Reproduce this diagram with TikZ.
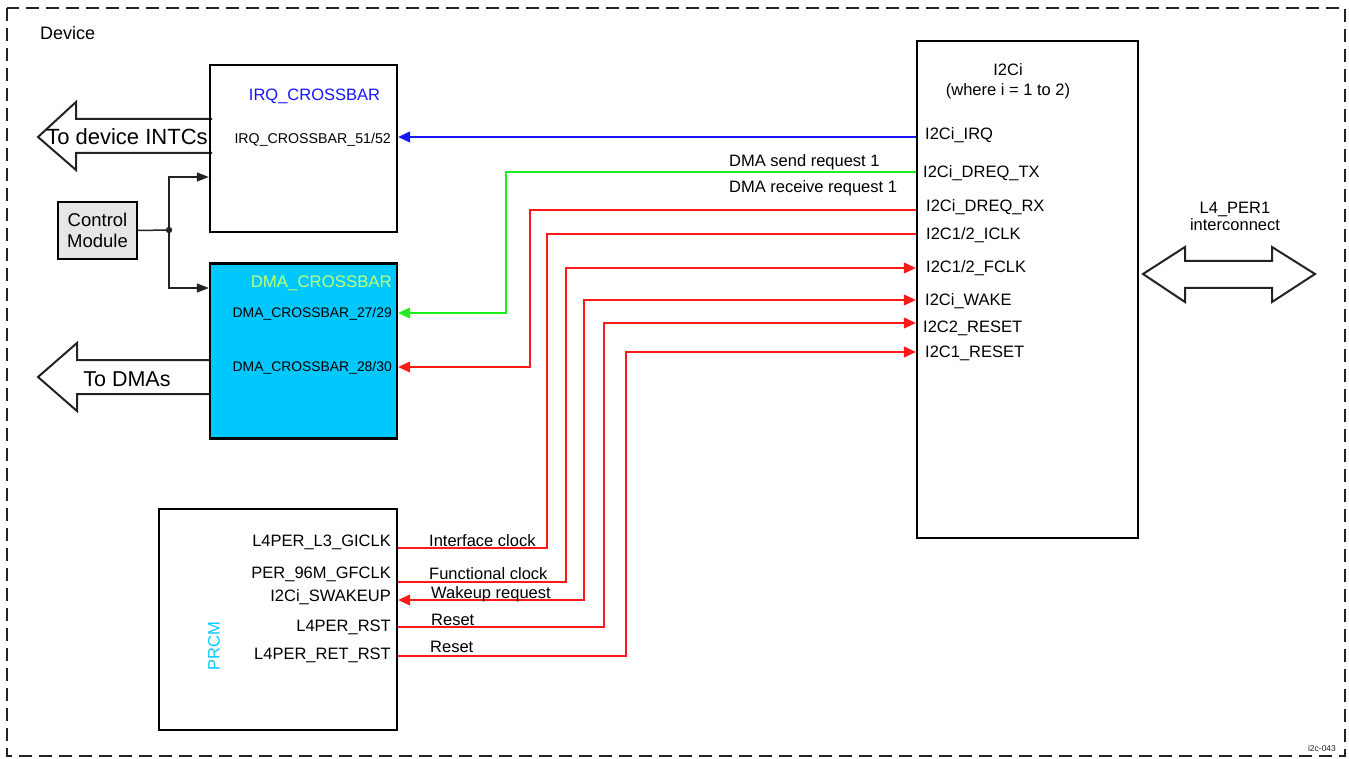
\documentclass[tikz,border=0pt]{standalone}
\usepackage{fontspec}
\setmainfont{Liberation Sans}
\usepackage{tikz}
\usetikzlibrary{arrows.meta,positioning,calc}
\definecolor{xbarcyan}{RGB}{0,200,255}
\definecolor{xbargreen}{RGB}{190,255,120}
\definecolor{irqblue}{RGB}{20,20,255}
\definecolor{reqgreen}{RGB}{30,240,30}
\definecolor{wirered}{RGB}{255,25,25}
\definecolor{cmgrey}{RGB}{230,230,230}
\definecolor{outline}{RGB}{35,35,35}

\begin{document}
\begin{tikzpicture}[x=1pt, y=-1pt,
    blk/.style={rectangle, draw=black, line width=2.4pt, inner sep=0pt},
    lbl/.style={font=\fontsize{16.5}{19}\selectfont, inner sep=0pt},
    plbl/.style={font=\fontsize{14.2}{16}\selectfont, inner sep=0pt},
    fat/.style={draw=outline, line width=2pt, fill=white, line join=miter},
    wire/.style={line width=1.2pt, -{Triangle[length=12pt,width=11pt]}},
    ctl/.style={line width=1.5pt, draw=outline, -{Triangle[length=12pt,width=9pt]}}
]
    \useasboundingbox (0,0) rectangle (1349,759);
    \draw[dash pattern=on 13pt off 7pt, line width=1.3pt, outline] (7,8) rectangle (1345,756);
    \node[lbl, font=\fontsize{18}{21}\selectfont, anchor=west] (dev) at (40,33) {Device};

    % Wide arrows
    \draw[fat] (212,119) -- (76,119) -- (76,102) -- (38,137) -- (76,170) -- (76,153) -- (212,153);
    \draw[fat] (212,360) -- (77,360) -- (77,343) -- (38,377) -- (77,411) -- (77,394) -- (212,394);
    \draw[fat] (1143,274) -- (1185,247) -- (1185,261) -- (1272,261) -- (1272,247) -- (1315,274)
        -- (1272,302) -- (1272,288) -- (1185,288) -- (1185,302) -- cycle;
    \node[lbl, font=\fontsize{22}{24}\selectfont] (intc) at (127,137) {To device INTCs};
    \node[lbl, font=\fontsize{21.5}{24}\selectfont] (todma) at (127,379) {To DMAs};
    \node[lbl, align=center, font=\fontsize{16.5}{17}\selectfont] (l4) at (1235,216) {L4\_PER1\\interconnect};

    % Blocks
    \node[blk, minimum width=187pt, minimum height=167pt] (irq) at (303.5,148.5) {};
    \node[blk, fill=xbarcyan, minimum width=187pt, minimum height=175pt] (dma) at (303.5,351) {};
    \node[blk, fill=cmgrey, line width=2pt, minimum width=79pt, minimum height=57pt, align=center,
        font=\fontsize{18.5}{21}\selectfont] (cm) at (97.5,230.5) {Control\\Module};
    \node[blk, minimum width=221pt, minimum height=497pt] (i2c) at (1027.5,289.5) {};
    \node[blk, minimum width=238pt, minimum height=221pt] (prcm) at (278,619.5) {};

    \node[lbl, irqblue] (irqt) at (314.5,96) {IRQ\_CROSSBAR};
    \node[plbl, anchor=east] (irqp) at (391,140) {IRQ\_CROSSBAR\_51/52};
    \node[lbl, xbargreen, anchor=east, font=\fontsize{16.8}{19}\selectfont] (dmat) at (392,283) {DMA\_CROSSBAR};
    \node[plbl, anchor=east, font=\fontsize{13.9}{16}\selectfont] (dmap1) at (392,314) {DMA\_CROSSBAR\_27/29};
    \node[plbl, anchor=east, font=\fontsize{13.9}{16}\selectfont] (dmap2) at (392,368) {DMA\_CROSSBAR\_28/30};
    \node[lbl, align=center, font=\fontsize{16.5}{20}\selectfont] (i2ct) at (1008,81) {I2Ci\\(where i = 1 to 2)};
    \node[lbl, xbarcyan, rotate=90] (prcmt) at (214,646) {PRCM};

    % I2Ci ports
    \node[lbl, anchor=west] (pirq) at (925,135) {I2Ci\_IRQ};
    \node[lbl, anchor=west] (ptx) at (923,173) {I2Ci\_DREQ\_TX};
    \node[lbl, anchor=west] (prx) at (926,207) {I2Ci\_DREQ\_RX};
    \node[lbl, anchor=west] (piclk) at (926,235) {I2C1/2\_ICLK};
    \node[lbl, anchor=west] (pfclk) at (926,268) {I2C1/2\_FCLK};
    \node[lbl, anchor=west] (pwake) at (925,301) {I2Ci\_WAKE};
    \node[lbl, anchor=west] (prst2) at (923,328) {I2C2\_RESET};
    \node[lbl, anchor=west] (prst1) at (925,353) {I2C1\_RESET};

    % PRCM ports
    \node[lbl, anchor=east] (gi) at (391,542) {L4PER\_L3\_GICLK};
    \node[lbl, anchor=east] (gf) at (391,574) {PER\_96M\_GFCLK};
    \node[lbl, anchor=east] (sw) at (391,597) {I2Ci\_SWAKEUP};
    \node[lbl, anchor=east] (rs) at (391,627) {L4PER\_RST};
    \node[lbl, anchor=east] (rr) at (391,655) {L4PER\_RET\_RST};

    % Control module
    \coordinate (jn) at (169,230);
    \draw[line width=1.5pt, outline] (cm.east) -- (jn);
    \fill[outline] (jn) circle (3.2pt);
    \draw[ctl] (jn) |- (irq.west |- 0,177);
    \draw[ctl] (jn) |- (dma.west |- 0,288);

    % Request lines
    \draw[wire, irqblue] (i2c.west |- 0,137) -- (irq.east |- 0,137);
    \draw[wire, reqgreen] (i2c.west |- 0,172) -| (506,313) -- (dma.east |- 0,313);
    \draw[wire, wirered] (i2c.west |- 0,210) -| (530,367) -- (dma.east |- 0,367);

    % Clocks, wakeup, resets
    \draw[line width=1.2pt, wirered] (prcm.east |- 0,548) -| (547,234) -- (i2c.west |- 0,234);
    \draw[wire, wirered] (prcm.east |- 0,582) -| (566,268) -- (i2c.west |- 0,268);
    \draw[wire, wirered, {Triangle[length=12pt,width=11pt]}-{Triangle[length=12pt,width=11pt]}]
        (prcm.east |- 0,600) -| (584,300) -- (i2c.west |- 0,300);
    \draw[wire, wirered] (prcm.east |- 0,627) -| (604,323) -- (i2c.west |- 0,323);
    \draw[wire, wirered] (prcm.east |- 0,656) -| (626,352) -- (i2c.west |- 0,352);

    % Annotations
    \node[lbl, anchor=west] (sreq) at (729,162) {DMA send request 1};
    \node[lbl, anchor=west] (rreq) at (729,188) {DMA receive request 1};
    \node[lbl, anchor=west] (ic) at (429,541) {Interface clock};
    \node[lbl, anchor=west] (fc) at (429,574) {Functional clock};
    \node[lbl, anchor=west] (wr) at (431,594) {Wakeup request};
    \node[lbl, anchor=west] (r1) at (431,620) {Reset};
    \node[lbl, anchor=west] (r2) at (430,647) {Reset};
    \node[font=\fontsize{8.5}{10}\selectfont, outline, inner sep=0pt] (fig) at (1322,748) {i2c-043};
\end{tikzpicture}
\end{document}
